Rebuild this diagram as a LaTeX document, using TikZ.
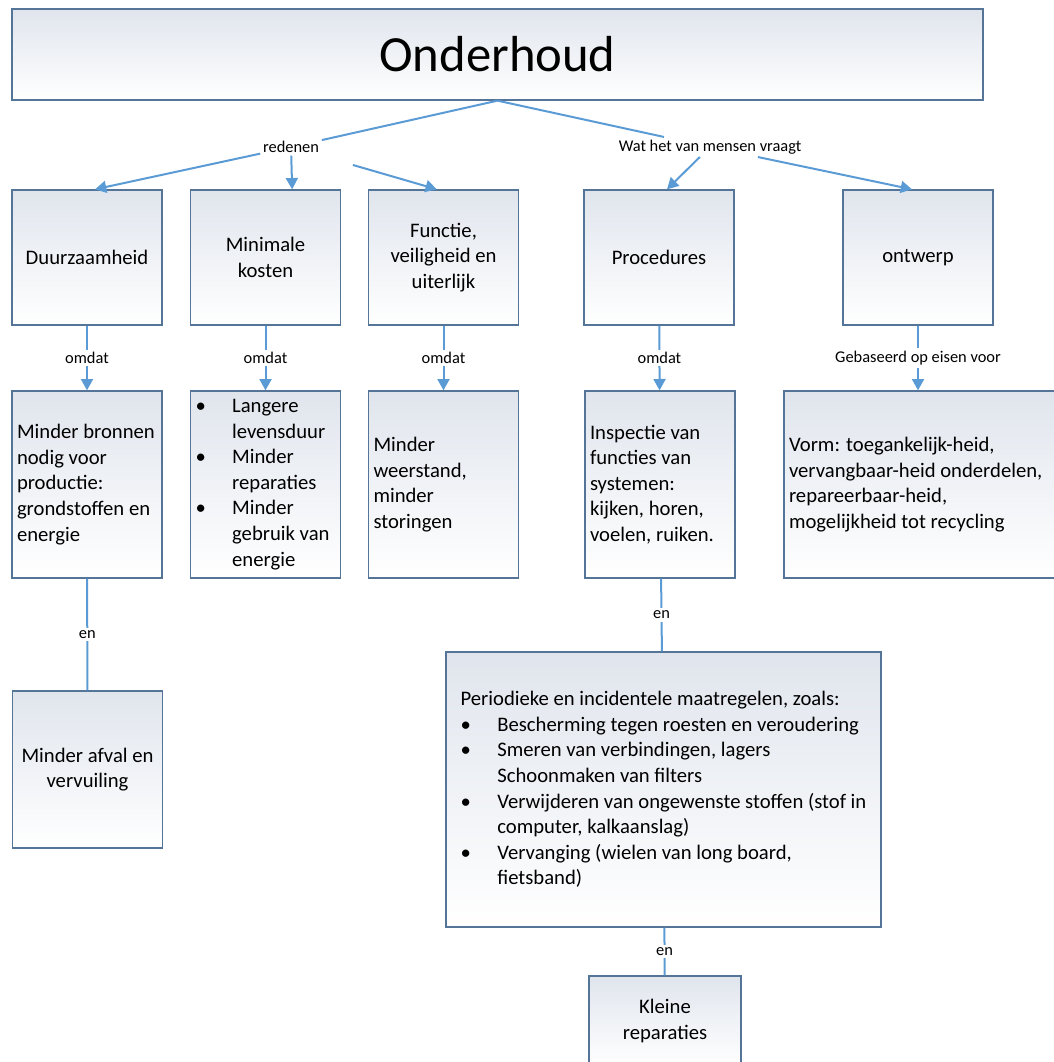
\documentclass[tikz,border=0pt]{standalone}
\usepackage{fontspec}
\setmainfont{Carlito}
\usetikzlibrary{arrows.meta}
\definecolor{lijnblauw}{RGB}{91,155,213}
\definecolor{randblauw}{RGB}{84,116,152}
\definecolor{vulgrijs}{RGB}{224,229,237}
\newcommand{\opsom}{\makebox[27.5pt][l]{\textbullet}}
\newcommand{\inspring}{\hspace*{27.5pt}}

\begin{document}
\begin{tikzpicture}[x=0.75pt, y=-0.75pt,
    vak/.style={draw=randblauw, line width=1pt, top color=vulgrijs, bottom color=white, inner sep=3.75pt, font=\fontsize{15.5pt}{19.2pt}\selectfont},
    kort/.style={vak, minimum width=112.5pt, minimum height=101.25pt, align=center},
    lang/.style={vak, minimum width=112.5pt, minimum height=140.25pt, text width=105pt, align=flush left},
    tekst/.style={fill=white, inner sep=2pt, font=\fontsize{12.3pt}{14.8pt}\selectfont},
    lijn/.style={draw=lijnblauw, line width=1.5pt},
    pijl/.style={lijn, -{Triangle[width=9pt,length=8.5pt]}}]
    \useasboundingbox (0,0) rectangle (1053,1062);

    % kop
    \node[vak, minimum width=728.25pt, minimum height=68.25pt, font=\fontsize{38pt}{45pt}\selectfont] (onderhoud) at (497.5,54.5) {Onderhoud};
    \node[tekst] (reden) at (291,147) {redenen};
    \node[tekst] (wat) at (710,147) {Wat het van mensen vraagt};

    % eerste rij
    \node[kort] (duur) at (87,257.5) {Duurzaamheid};
    \node[kort] (kost) at (265.5,257.5) {Minimale\\kosten};
    \node[kort] (func) at (443.5,257.5) {Functie,\\veiligheid en\\uiterlijk};
    \node[kort] (proc) at (659,257.5) {Procedures};
    \node[kort] (ontw) at (918,257.5) {ontwerp};

    % tweede rij
    \node[lang] (bron) at (87,484.5) {Minder bronnen\\nodig voor\\productie:\\grondstoffen en\\energie};
    \node[lang] (levd) at (265.5,484.5) {\opsom Langere\\\inspring levensduur\\\opsom Minder\\\inspring reparaties\\\opsom Minder\\\inspring gebruik van\\\inspring energie};
    \node[lang] (weer) at (443.5,484.5) {Minder\\weerstand,\\minder\\storingen};
    \node[lang] (insp) at (660,484.5) {Inspectie van\\functies van\\systemen:\\kijken, horen,\\voelen, ruiken.};
    \node[lang, minimum width=217.5pt, text width=210pt] (vorm) at (929,484.5) {Vorm: toegankelijk-heid,\\vervangbaar-heid onderdelen,\\repareerbaar-heid,\\mogelijkheid tot recycling};

    % onderste rij
    \node[kort, minimum height=117.75pt] (afval) at (87.5,769.5) {Minder afval en\\vervuiling};
    \node[vak, minimum width=326.25pt, minimum height=206.25pt, align=flush left] (maat) at (663.5,789.5) {Periodieke en incidentele maatregelen, zoals:\\\opsom Bescherming tegen roesten en veroudering\\\opsom Smeren van verbindingen, lagers\\\inspring Schoonmaken van filters\\\opsom Verwijderen van ongewenste stoffen (stof in\\\inspring computer, kalkaanslag)\\\opsom Vervanging (wielen van long board,\\\inspring fietsband)};
    \node[kort, minimum width=114pt, minimum height=67.5pt] (rep) at (665,1021) {Kleine\\reparaties};

    \draw[lijn] (onderhoud.south) -- (reden);
    \draw[lijn] (onderhoud.south) -- (wat);
    \draw[pijl] (reden) -- ([xshift=6pt]duur.north);
    \draw[pijl] (reden) -- ([xshift=20pt]kost.north);
    \draw[pijl, shorten <=25pt] (reden) -- ([xshift=-5pt]func.north);
    \draw[pijl] (wat) -- ([xshift=6pt]proc.north);
    \draw[pijl] (wat) -- ([xshift=-4.5pt]ontw.north);

    \draw[pijl] (duur) -- node[tekst] (om1) {omdat} (bron);
    \draw[pijl] (kost) -- node[tekst] (om2) {omdat} (levd);
    \draw[pijl] (func) -- node[tekst] (om3) {omdat} (weer);
    \draw[pijl] (proc) -- node[tekst] (om4) {omdat} (insp);
    \draw[pijl] (ontw.south) -- node[tekst] (geb) {Gebaseerd op eisen voor} (ontw.south |- vorm.north);

    \draw[lijn] (bron) -- node[tekst] (en1) {en} (afval);
    \draw[lijn] (insp) -- node[tekst] (en2) {en} (maat);
    \draw[lijn] (maat) -- node[tekst] (en3) {en} (rep);
\end{tikzpicture}
\end{document}
